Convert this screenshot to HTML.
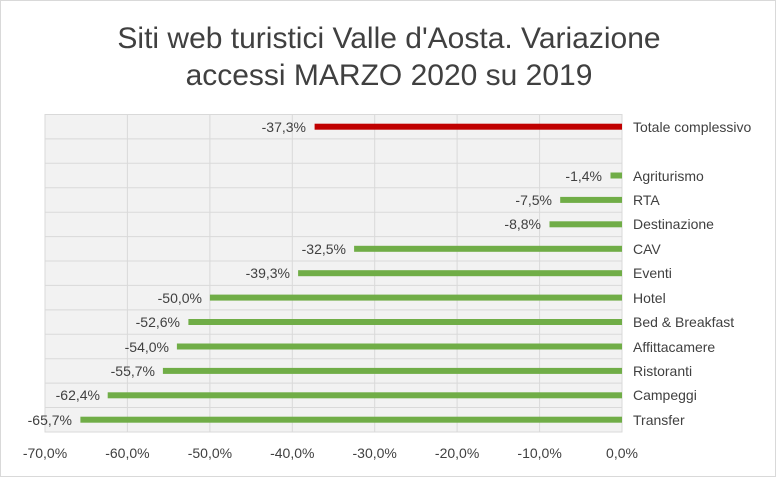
<!DOCTYPE html>
<html><head><meta charset="utf-8"><style>
html,body{margin:0;padding:0;background:#fff}
svg{display:block}
</style></head><body>
<svg width="776" height="477" viewBox="0 0 776 477" xmlns="http://www.w3.org/2000/svg" font-family="Liberation Sans, sans-serif">
<rect x="0.5" y="0.5" width="775" height="476" fill="#fff" stroke="#d9d9d9"/>
<text x="389" y="48" text-anchor="middle" font-size="30" fill="#404040" font-weight="300">Siti web turistici Valle d'Aosta. Variazione</text>
<text x="389" y="85" text-anchor="middle" font-size="30" fill="#404040" font-weight="300">accessi MARZO 2020 su 2019</text>
<rect x="45" y="114.5" width="577" height="317.5" fill="#f2f2f2" stroke="#d9d9d9"/>
<g stroke="#d9d9d9" stroke-width="1">
<line x1="127.4" y1="114.5" x2="127.4" y2="432"/><line x1="209.9" y1="114.5" x2="209.9" y2="432"/>
<line x1="292.3" y1="114.5" x2="292.3" y2="432"/><line x1="374.7" y1="114.5" x2="374.7" y2="432"/>
<line x1="457.1" y1="114.5" x2="457.1" y2="432"/><line x1="539.6" y1="114.5" x2="539.6" y2="432"/>
<line x1="45" y1="138.9" x2="622" y2="138.9"/><line x1="45" y1="163.3" x2="622" y2="163.3"/>
<line x1="45" y1="187.8" x2="622" y2="187.8"/><line x1="45" y1="212.2" x2="622" y2="212.2"/>
<line x1="45" y1="236.6" x2="622" y2="236.6"/><line x1="45" y1="261" x2="622" y2="261"/>
<line x1="45" y1="285.4" x2="622" y2="285.4"/><line x1="45" y1="309.9" x2="622" y2="309.9"/>
<line x1="45" y1="334.3" x2="622" y2="334.3"/><line x1="45" y1="358.7" x2="622" y2="358.7"/>
<line x1="45" y1="383.1" x2="622" y2="383.1"/><line x1="45" y1="407.5" x2="622" y2="407.5"/>
</g>
<g>
<rect x="314.6" y="123.7" width="307.4" height="6" fill="#c00000"/>
<rect x="610.5" y="172.5" width="11.5" height="6" fill="#70ad47"/>
<rect x="560.2" y="196.9" width="61.8" height="6" fill="#70ad47"/>
<rect x="549.5" y="221.3" width="72.5" height="6" fill="#70ad47"/>
<rect x="354.1" y="245.8" width="267.9" height="6" fill="#70ad47"/>
<rect x="298.1" y="270.2" width="323.9" height="6" fill="#70ad47"/>
<rect x="209.9" y="294.6" width="412.1" height="6" fill="#70ad47"/>
<rect x="188.4" y="319" width="433.6" height="6" fill="#70ad47"/>
<rect x="176.9" y="343.5" width="445.1" height="6" fill="#70ad47"/>
<rect x="162.9" y="367.9" width="459.1" height="6" fill="#70ad47"/>
<rect x="107.7" y="392.3" width="514.3" height="6" fill="#70ad47"/>
<rect x="80.4" y="416.7" width="541.6" height="6" fill="#70ad47"/>
</g>
<g font-size="14" fill="#404040" text-anchor="end">
<text x="306" y="132">-37,3%</text>
<text x="602" y="181">-1,4%</text>
<text x="552" y="205">-7,5%</text>
<text x="541" y="229">-8,8%</text>
<text x="346" y="254">-32,5%</text>
<text x="290" y="278">-39,3%</text>
<text x="202" y="303">-50,0%</text>
<text x="180" y="327">-52,6%</text>
<text x="169" y="352">-54,0%</text>
<text x="155" y="376">-55,7%</text>
<text x="100" y="400">-62,4%</text>
<text x="72" y="425">-65,7%</text>
</g>
<g font-size="14" fill="#404040">
<text x="633" y="132">Totale complessivo</text>
<text x="633" y="181">Agriturismo</text>
<text x="633" y="205">RTA</text>
<text x="633" y="229">Destinazione</text>
<text x="633" y="254">CAV</text>
<text x="633" y="278">Eventi</text>
<text x="633" y="303">Hotel</text>
<text x="633" y="327">Bed &amp; Breakfast</text>
<text x="633" y="352">Affittacamere</text>
<text x="633" y="376">Ristoranti</text>
<text x="633" y="400">Campeggi</text>
<text x="633" y="425">Transfer</text>
</g>
<g font-size="14" fill="#404040" text-anchor="middle">
<text x="45" y="458">-70,0%</text><text x="127.4" y="458">-60,0%</text>
<text x="209.9" y="458">-50,0%</text><text x="292.3" y="458">-40,0%</text>
<text x="374.7" y="458">-30,0%</text><text x="457.1" y="458">-20,0%</text>
<text x="539.6" y="458">-10,0%</text><text x="622" y="458">0,0%</text>
</g>
</svg>
</body></html>
